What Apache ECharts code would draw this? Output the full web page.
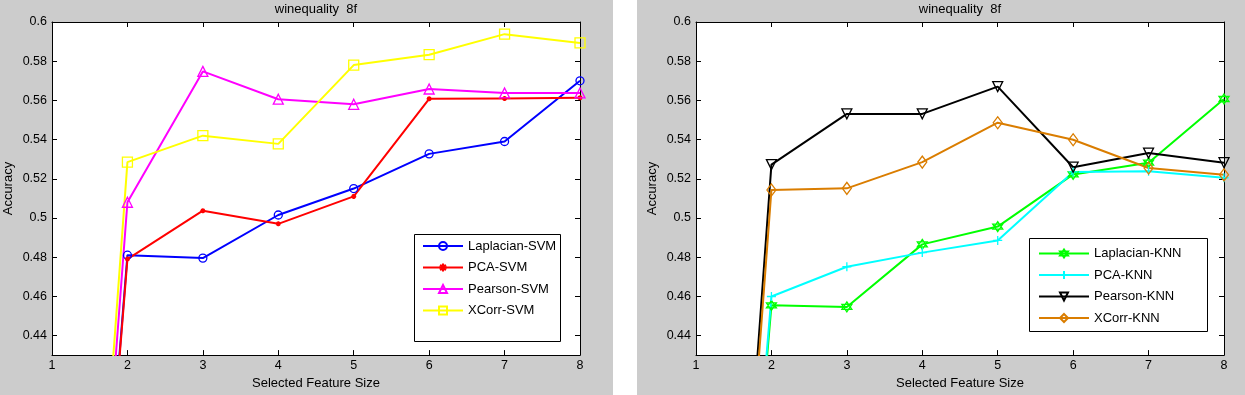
<!DOCTYPE html>
<html>
<head>
<meta charset="utf-8">
<script src="https://cdn.jsdelivr.net/npm/echarts@6/dist/echarts.min.js"></script>
<style>
html,body{margin:0;padding:0;background:#fff;}
#chart{width:1245px;height:395px;}
</style>
</head>
<body>
<div id="chart"></div>
<script>
// ---- data ----
const chartTitle = 'winequality  8f';
const xLabelText = 'Selected Feature Size';
const yLabelText = 'Accuracy';
const featureSizes = [1, 2, 3, 4, 5, 6, 7, 8];
const yTicks = [0.44, 0.46, 0.48, 0.5, 0.52, 0.54, 0.56, 0.58, 0.6];
const yMin = 0.43, yMax = 0.6;

const svmNames = ['Laplacian-SVM', 'PCA-SVM', 'Pearson-SVM', 'XCorr-SVM'];
const laplacianSVM = [0, 0.481, 0.4795, 0.5015, 0.515, 0.5327, 0.539, 0.570];
const pcaSVM       = [0, 0.479, 0.5037, 0.497, 0.511, 0.5608, 0.561, 0.5613];
const pearsonSVM   = [0, 0.508, 0.5748, 0.5606, 0.558, 0.5658, 0.5638, 0.5638];
const xcorrSVM     = [0, 0.5285, 0.542, 0.5378, 0.578, 0.5833, 0.5938, 0.5893];

const knnNames = ['Laplacian-KNN', 'PCA-KNN', 'Pearson-KNN', 'XCorr-KNN'];
const laplacianKNN = [0, 0.4554, 0.4546, 0.4865, 0.4956, 0.5222, 0.5282, 0.5607];
const pcaKNN       = [0, 0.4599, 0.4751, 0.4823, 0.4885, 0.5235, 0.5238, 0.5205];
const pearsonKNN   = [0, 0.5272, 0.5531, 0.5531, 0.567, 0.5259, 0.5331, 0.5282];
const xcorrKNN     = [0, 0.5143, 0.5151, 0.5285, 0.5486, 0.5399, 0.5255, 0.522];

// ---- styling ----
const FONT = '"Liberation Sans", Arial, sans-serif';
const pair = (vals) => featureSizes.map((x, i) => [x, vals[i]]);

const ASTERISK = 'path://M0,5L10,5M5,0L5,10M1.5,1.5L8.5,8.5M8.5,1.5L1.5,8.5';
const PLUS = 'path://M0,5L10,5M5,0L5,10';
const HEXAGRAM = 'path://M5,0L9.33,7.5L0.67,7.5Z M5,10L0.67,2.5L9.33,2.5Z';

function mkSeries(name, vals, color, symbol, size, gi, extra) {
  return Object.assign({
    name: name,
    type: 'line',
    xAxisIndex: gi * 2,
    yAxisIndex: gi * 2,
    data: pair(vals),
    clip: true,
    symbol: symbol,
    symbolSize: size,
    showAllSymbol: true,
    lineStyle: { color: color, width: 2 },
    itemStyle: { color: 'rgba(0,0,0,0)', borderColor: color, borderWidth: 1.3 },
    emphasis: { disabled: true },
    animation: false,
    z: 2
  }, extra || {});
}

const grids = [
  { left: 52, top: 22, width: 528, height: 339 },
  { left: 696, top: 22, width: 528, height: 339 }
];

const xAxes = [], yAxes = [];
grids.forEach((g, gi) => {
  const tick = { show: true, inside: true, length: 5, lineStyle: { color: '#000', width: 1 } };
  xAxes.push({
    gridIndex: gi, type: 'value', min: 1, max: 8, interval: 1, position: 'bottom',
    axisLine: { show: true, lineStyle: { color: '#000', width: 1 } },
    axisTick: tick,
    axisLabel: { color: '#000', fontFamily: FONT, fontSize: 12.5, margin: 4 },
    splitLine: { show: false },
    name: xLabelText, nameLocation: 'middle', nameGap: 19,
    nameTextStyle: { color: '#000', fontFamily: FONT, fontSize: 13 }
  });
  xAxes.push({
    gridIndex: gi, type: 'value', min: 1, max: 8, interval: 1, position: 'top',
    axisLine: { show: true, lineStyle: { color: '#000', width: 1 } },
    axisTick: tick,
    axisLabel: { show: false },
    splitLine: { show: false }
  });
  yAxes.push({
    gridIndex: gi, type: 'value', min: yMin, max: yMax, position: 'left',
    axisLine: { show: true, lineStyle: { color: '#000', width: 1 } },
    axisTick: Object.assign({}, tick, { customValues: yTicks }),
    axisLabel: { color: '#000', fontFamily: FONT, fontSize: 12.5, margin: 5, customValues: yTicks },
    splitLine: { show: false },
    name: yLabelText, nameLocation: 'middle', nameGap: 37,
    nameTextStyle: { color: '#000', fontFamily: FONT, fontSize: 13 }
  });
  yAxes.push({
    gridIndex: gi, type: 'value', min: yMin, max: yMax, position: 'right',
    axisLine: { show: true, lineStyle: { color: '#000', width: 1 } },
    axisTick: Object.assign({}, tick, { customValues: yTicks }),
    axisLabel: { show: false },
    splitLine: { show: false }
  });
});

const series = [
  mkSeries(svmNames[0], laplacianSVM, '#0000ff', 'circle', 8, 0),
  mkSeries(svmNames[1], pcaSVM, '#ff0000', ASTERISK, 5, 0, { itemStyle: { color: 'rgba(0,0,0,0)', borderColor: '#ff0000', borderWidth: 1.5 } }),
  mkSeries(svmNames[2], pearsonSVM, '#ff00ff', 'triangle', 10, 0),
  mkSeries(svmNames[3], xcorrSVM, '#ffff00', 'rect', 10, 0),
  mkSeries(knnNames[0], laplacianKNN, '#00ff00', HEXAGRAM, 10, 1),
  mkSeries(knnNames[1], pcaKNN, '#00ffff', PLUS, 9, 1),
  mkSeries(knnNames[2], pearsonKNN, '#000000', 'triangle', 10, 1, { symbolRotate: 180 }),
  mkSeries(knnNames[3], xcorrKNN, '#da7d00', 'diamond', [9, 12], 1)
];

const legendText = { color: '#000', fontFamily: FONT, fontSize: 13, lineHeight: 14 };

const option = {
  backgroundColor: '#cccccc',
  animation: false,
  grid: grids.map(g => Object.assign({ show: true, backgroundColor: '#ffffff', borderWidth: 0 }, g)),
  xAxis: xAxes,
  yAxis: yAxes,
  legend: [
    { data: svmNames, orient: 'vertical', left: 422, top: 239, padding: 0, itemWidth: 40, itemHeight: 10, itemGap: 7.5, textStyle: legendText, selectedMode: false, z: 10 },
    { data: knnNames, orient: 'vertical', left: 1038, top: 246.5, padding: 0, itemWidth: 50, itemHeight: 10, itemGap: 7.5, textStyle: legendText, selectedMode: false, z: 10 }
  ],
  graphic: [
    { type: 'rect', shape: { x: 613, y: 0, width: 24, height: 395 }, style: { fill: '#ffffff' }, z: 0, silent: true },
    { type: 'rect', shape: { x: 414.5, y: 234.5, width: 146, height: 107 }, style: { fill: '#ffffff', stroke: '#000', lineWidth: 1 }, z: 3, silent: true },
    { type: 'rect', shape: { x: 1029.5, y: 238.5, width: 178, height: 93 }, style: { fill: '#ffffff', stroke: '#000', lineWidth: 1 }, z: 3, silent: true },
    { type: 'text', x: 316, y: 9, style: { text: chartTitle, fill: '#000', font: '13px ' + FONT, textAlign: 'center', textVerticalAlign: 'middle' }, z: 5, silent: true },
    { type: 'text', x: 960, y: 9, style: { text: chartTitle, fill: '#000', font: '13px ' + FONT, textAlign: 'center', textVerticalAlign: 'middle' }, z: 5, silent: true }
  ],
  series: series
};

const chart = echarts.init(document.getElementById('chart'), null, { renderer: 'canvas' });
chart.setOption(option);
</script>
</body>
</html>
